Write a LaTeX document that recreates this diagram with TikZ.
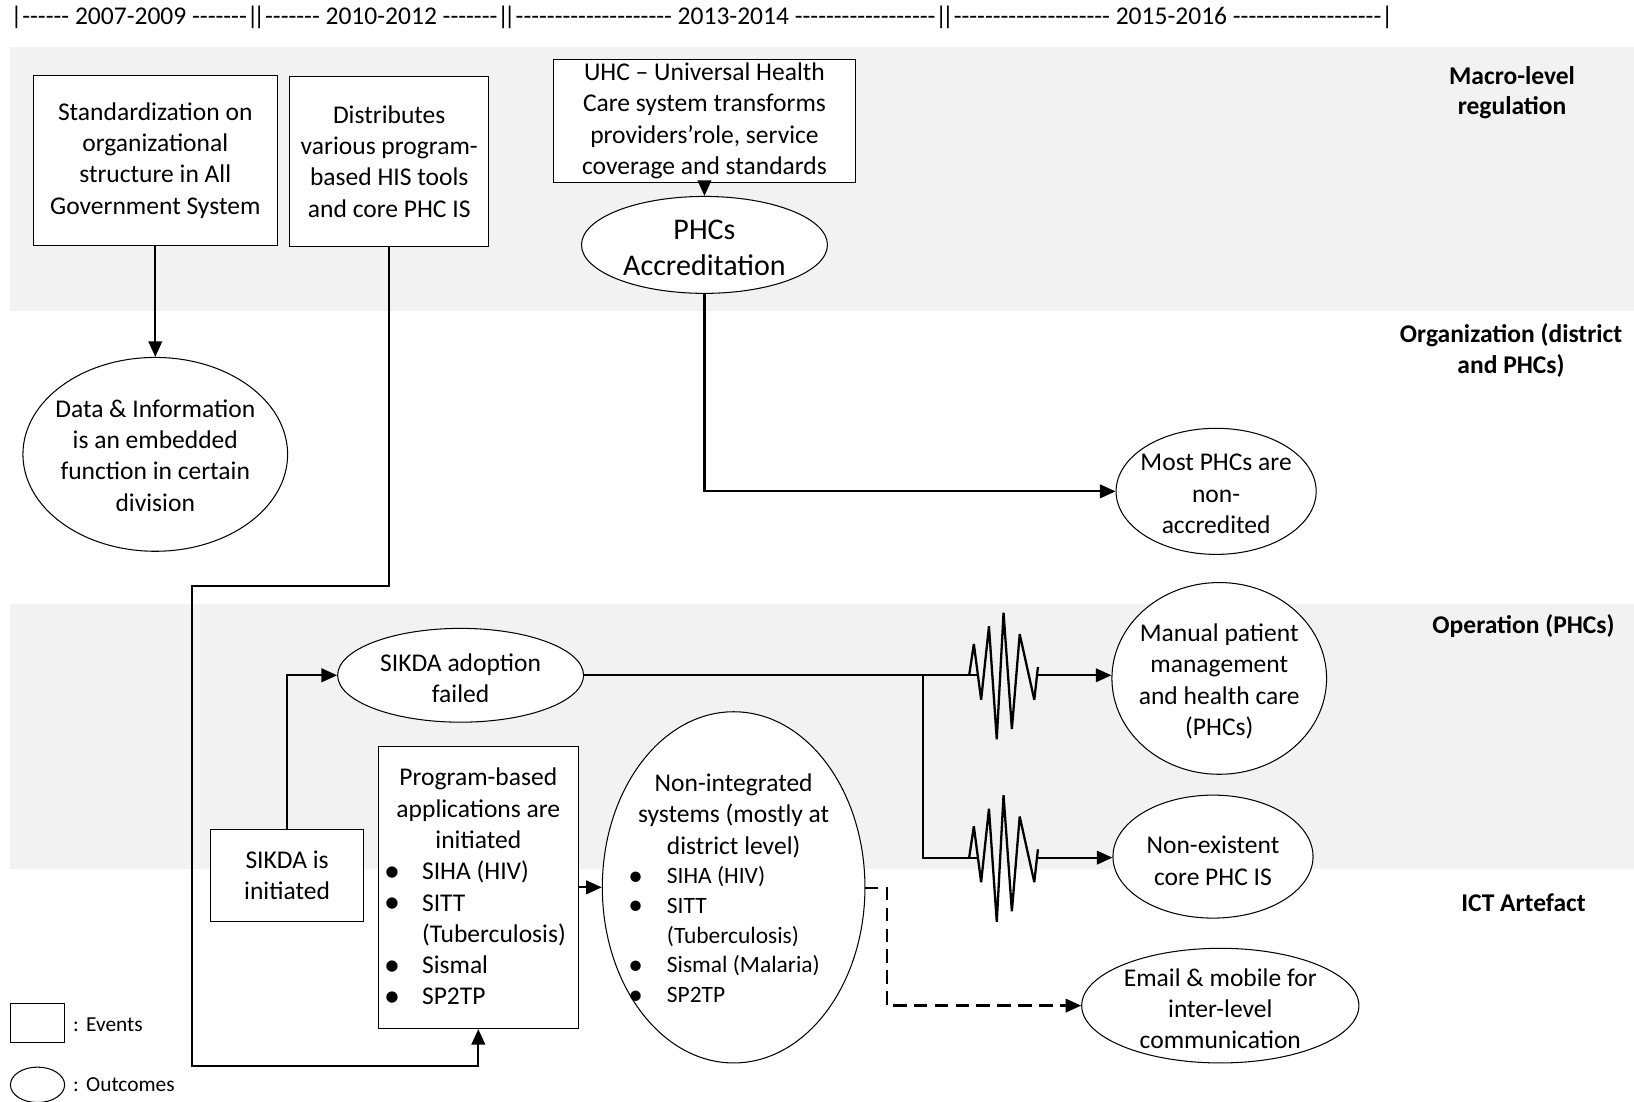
\documentclass[tikz,border=0pt]{standalone}
\usepackage{fontspec}
\setmainfont{Carlito}[Ligatures=TeXOff]
\usetikzlibrary{shapes.geometric,arrows.meta}
\definecolor{bandgrey}{HTML}{F2F2F2}
% bullets used in the item lists
\newcommand\bulA{\makebox[36.5pt][l]{\raisebox{-1.6pt}{\scalebox{1.25}{•}}}}
\newcommand\bulB{\makebox[37pt][l]{\raisebox{-1.4pt}{\scalebox{1.25}{•}}}}
% two bars set close together in the period header
\newcommand\dbar{|\kern-5pt|}
% the jagged "break" symbol on a connector
\newcommand\zigzag{-- ++(4.5,-30) -- ++(7,53.5) -- ++(7.5,-70.5) -- ++(7.5,108.5) -- ++(6.5,-121.5) -- ++(8,111.5) -- ++(7.5,-91) -- ++(14,63) -- ++(3.5,-31.5)}
\begin{document}
\begin{tikzpicture}[x=1pt,y=-1pt,
  every node/.style={font=\fontsize{24.5}{30}\selectfont},
  event/.style={draw, fill=white, line width=1pt, rectangle, inner sep=0pt, align=flush center},
  outcome/.style={draw, fill=white, line width=1pt, ellipse, inner sep=0pt},
  txt/.style={inner sep=0pt, align=flush center},
  lvl/.style={inner sep=0pt, align=flush center, font=\fontsize{24.5}{29.5}\selectfont\bfseries},
  legtxt/.style={inner sep=0pt, anchor=west, font=\fontsize{20.5}{24}\selectfont},
  plain/.style={line width=2.2pt},
  link/.style={line width=2.2pt, -{Triangle[length=15pt,width=13pt]}},
]
\useasboundingbox (0,0) rectangle (1568,1057);

% swim-lane bands
\fill[bandgrey] (10,45) rectangle (1568,298);
\fill[bandgrey] (10,580) rectangle (1568,834);

% period header
\node[txt, anchor=west] (years) at (10,17) {|------ 2007-2009 -------\dbar------- 2010-2012 -------\dbar-------------------- 2013-2014 ------------------\dbar-------------------- 2015-2016 -------------------|};

% level labels
\node[lvl] (macro) at (1451,89) {Macro-level\\regulation};
\node[lvl] (org) at (1450,336) {Organization (district\\and PHCs)};
\node[lvl] (oper) at (1462,601) {Operation (PHCs)};
\node[lvl] (ict) at (1462,866) {ICT Artefact};

% events
\node[event, minimum width=234, minimum height=164] (std) at (149,154) {Standardization on\\organizational\\structure in All\\Government System};
\node[event, minimum width=191, minimum height=164] (dist) at (373.5,155) {Distributes\\various program-\\based HIS tools\\and core PHC IS};
\node[event, minimum width=290, minimum height=118] (uhc) at (676,116) {UHC – Universal Health\\Care system transforms\\providers’role, service\\coverage and standards};
\node[event, minimum width=147, minimum height=88] (sikda) at (275.5,840) {SIKDA is\\initiated};
\node[event, minimum width=192, minimum height=271, text width=181pt, align=flush left] (prog) at (459,851.5) {%
\makebox[181pt]{Program-based}\\
\makebox[181pt]{applications are}\\
\makebox[181pt]{initiated}\\
\bulA SIHA (HIV)\\
\bulA SITT\\
\hspace*{36.5pt}(Tuberculosis)\\
\bulA Sismal\\
\bulA SP2TP};

% outcomes
\node[outcome, minimum width=236, minimum height=93] (accr) at (676,235) {};
\node[txt, font=\fontsize{28.8}{34}\selectfont] (accrT) at (676,238) {PHCs\\Accreditation};
\node[outcome, minimum width=254, minimum height=186] (data) at (149,436) {};
\node[txt] (dataT) at (149,437) {Data \& Information\\is an embedded\\function in certain\\division};
\node[outcome, minimum width=192, minimum height=121] (most) at (1167,471.5) {};
\node[txt] (mostT) at (1167,474) {Most PHCs are\\non-\\accredited};
\node[outcome, minimum width=236, minimum height=90] (fail) at (442,648) {};
\node[txt] (failT) at (442,651) {SIKDA adoption\\failed};
\node[outcome, minimum width=252, minimum height=337] (nonint) at (704,851.5) {};
\node[inner sep=0pt, text width=202pt, align=flush left] (nonintT) at (704,853) {%
{\centering Non-integrated\\systems (mostly at\\district level)\par}
{\fontsize{22.5}{28.5}\selectfont
\bulB SIHA (HIV)\\
\bulB SITT\\
\hspace*{37pt}(Tuberculosis)\\
\bulB Sismal (Malaria)\\
\bulB SP2TP\par}};
\node[outcome, minimum width=206, minimum height=184] (manual) at (1170,651) {};
\node[txt] (manualT) at (1170,654) {Manual patient\\management\\and health care\\(PHCs)};
\node[outcome, minimum width=192, minimum height=118] (nonex) at (1164,822) {};
\node[txt] (nonexT) at (1164,826) {Non-existent\\core PHC IS};
\node[outcome, minimum width=266, minimum height=110] (email) at (1171,965) {};
\node[txt] (emailT) at (1171,968) {Email \& mobile for\\inter-level\\communication};

% legend
\node[event, minimum width=52, minimum height=37] (legE) at (36,981.5) {};
\node[legtxt] (legEt) at (70,983) {:\hspace{7pt}Events};
\node[outcome, minimum width=52, minimum height=34] (legO) at (36,1041) {};
\node[legtxt] (legOt) at (70,1041) {:\hspace{7pt}Outcomes};

% routing points
\coordinate (jogL) at (184,562);
\coordinate (jogB) at (184,1023);
\coordinate (split) at (886,648);
\coordinate (zzT) at (930,648);
\coordinate (zzB) at (930,823);
\coordinate (zzTe) at (996,648);
\coordinate (zzBe) at (996,823);
\coordinate (dashS) at (830,852);
\coordinate (dashC) at (851,852);

% connectors
\draw[link] (uhc.south) -- (accr.north);
\draw[link] (std.south) -- (data.north);
\draw[link] (accr.south) |- (most.west);
\draw[link] (dist.south) |- (jogL) -- (jogB) -| (prog.south);
\draw[link] (sikda.north) |- (fail.west);
\draw[link] (prog.east) -- (prog.east -| nonint.west);
\draw[plain] (fail.east) -- ([xshift=8pt]zzT);
\draw[plain] (split) |- ([xshift=8pt]zzB);
\draw[plain, line join=bevel] (zzT) \zigzag;
\draw[plain, line join=bevel] (zzB) \zigzag;
\draw[link] (zzTe) -- (zzTe -| manual.west);
\draw[link] (zzBe) -- (zzBe -| nonex.west);
\draw[link, dash pattern=on 13pt off 7pt] (dashS) -- (dashC) |- (email.west);
\end{tikzpicture}
\end{document}
